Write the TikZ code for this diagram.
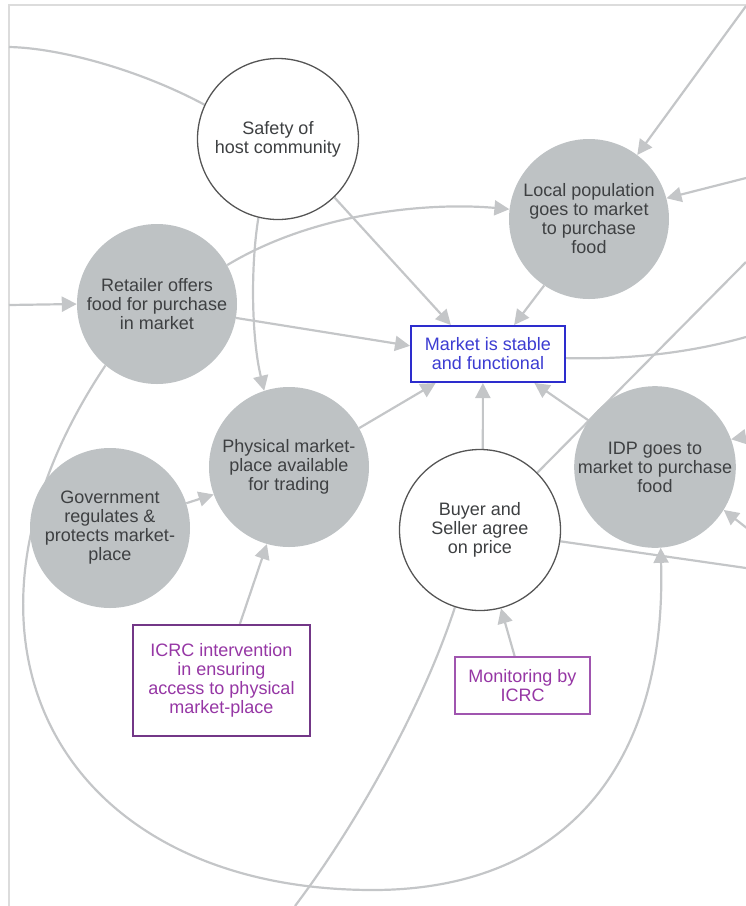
\documentclass[tikz,border=0pt]{standalone}
\usepackage{fontspec}
\setmainfont{Liberation Sans}
\usetikzlibrary{arrows.meta,calc}
\pgfdeclarelayer{background}
\pgfsetlayers{background,main}

\definecolor{linkgray}{RGB}{196,198,200}
\definecolor{factorgray}{RGB}{190,194,196}
\definecolor{rimgray}{RGB}{85,85,85}
\definecolor{txtgray}{RGB}{62,64,66}
\definecolor{framegray}{RGB}{220,220,220}
\definecolor{outcomeblue}{RGB}{45,45,205}
\definecolor{outcometext}{RGB}{60,60,210}
\definecolor{actionrim}{RGB}{115,55,135}
\definecolor{actiontext}{RGB}{150,55,165}
\definecolor{monitorrim}{RGB}{160,85,175}

\begin{document}
\begin{tikzpicture}[x=1pt,y=-1pt,
  every node/.style={font=\fontsize{18}{19}\selectfont, text=txtgray,
    align=center, inner sep=0pt},
  factor/.style={circle, fill=factorgray, minimum size=160pt},
  keyfactor/.style={circle, draw=rimgray, line width=1.3pt, fill=white,
    minimum size=161pt},
  outcome/.style={rectangle, draw=outcomeblue, line width=2pt, fill=white,
    text=outcometext, minimum width=154pt, minimum height=56pt},
  action/.style={rectangle, draw=actionrim, line width=2pt, fill=white,
    text=actiontext},
  link/.style={draw=linkgray, line width=2.2pt,
    -{Triangle[length=15pt,width=15pt]}},
  plainlink/.style={draw=linkgray, line width=2.2pt},
  frameline/.style={draw=framegray, line width=1.8pt}
]
\useasboundingbox (0,0) rectangle (746,906);

% factors
\node[keyfactor] (safety) at (278,139) {Safety of\\host community};
\node[factor] (local) at (589,219) {Local population\\goes to market\\to purchase\\food};
\node[factor] (retail) at (157,304) {Retailer offers\\food for purchase\\in market};
\node[factor] (phys) at (289,467) {Physical market-\\place available\\for trading};
\node[factor] (gov) at (110,528) {Government\\regulates \&\\protects market-\\place};
\node[outcome] (market) at (488,354) {Market is stable\\and functional};
\node[keyfactor] (buyer) at (480,530) {Buyer and\\Seller agree\\on price};
\node[factor] (idp) at (655,467) {IDP goes to\\market to purchase\\food};

% interventions
\node[action, minimum width=177pt, minimum height=111pt] (icrc) at (221.5,680.5)
  {ICRC intervention\\in ensuring\\access to physical\\market-place};
\node[action, draw=monitorrim, minimum width=135pt, minimum height=57pt] (monitor)
  at (522.5,685.5) {Monitoring by\\ICRC};

% loose ends of links leaving the panel
\coordinate (wA) at (9,47);
\coordinate (wB) at (9,305);
\coordinate (nE) at (746,6);
\coordinate (eA) at (746,178);
\coordinate (eB) at (746,262);
\coordinate (eC) at (746,337);
\coordinate (eD) at (762,434);
\coordinate (eE) at (762,540);
\coordinate (eF) at (746,568);
\coordinate (sA) at (295,906);
\coordinate (loopbottom) at (373,890);

\begin{pgfonlayer}{background}
  \draw[frameline] (9,906) -- (9,5) -- (746,5);

  \draw[plainlink] (safety.155) .. controls (140,70) and (60,48) .. (wA);
  \draw[link] (safety.-46) -- (market.142);
  \draw[link] (safety.-104) .. controls (250,270) and (252,340) .. (phys.108);
  \draw[link] (wB) -- (retail.180);
  \draw[link] (retail.29) .. controls (315,212) and (430,202) .. (local.173);
  \draw[link] (retail.-10) -- (market.174);
  \draw[link] (retail.-130) .. controls (-78,640) and (60,890) .. (loopbottom)
    .. controls (560,890) and (667,770) .. (idp.-86);
  \draw[link] (local.-124) -- (market.48);
  \draw[link] (nE) -- (local.53);
  \draw[link] (eA) -- (local.15);
  \draw[plainlink] (buyer.45) -- (eB);
  \draw[plainlink] (market.-3) .. controls (640,360) and (700,350) .. (eC);
  \draw[link] (buyer.88) -- (market.-100);
  \draw[link] (idp.145) -- (market.-32);
  \draw[link] (phys.29) -- (market.-151);
  \draw[link] (gov.18) -- (phys.-160);
  \draw[link] (icrc.72) -- (phys.-106);
  \draw[link] (monitor.105) -- (buyer.-75);
  \draw[plainlink] (buyer.-108) .. controls (425,700) and (360,820) .. (sA);
  \draw[plainlink] (buyer.-8) -- (eF);
  \draw[link] (eD) -- (idp.20);
  \draw[link] (eE) -- (idp.-32);
\end{pgfonlayer}
\end{tikzpicture}
\end{document}
